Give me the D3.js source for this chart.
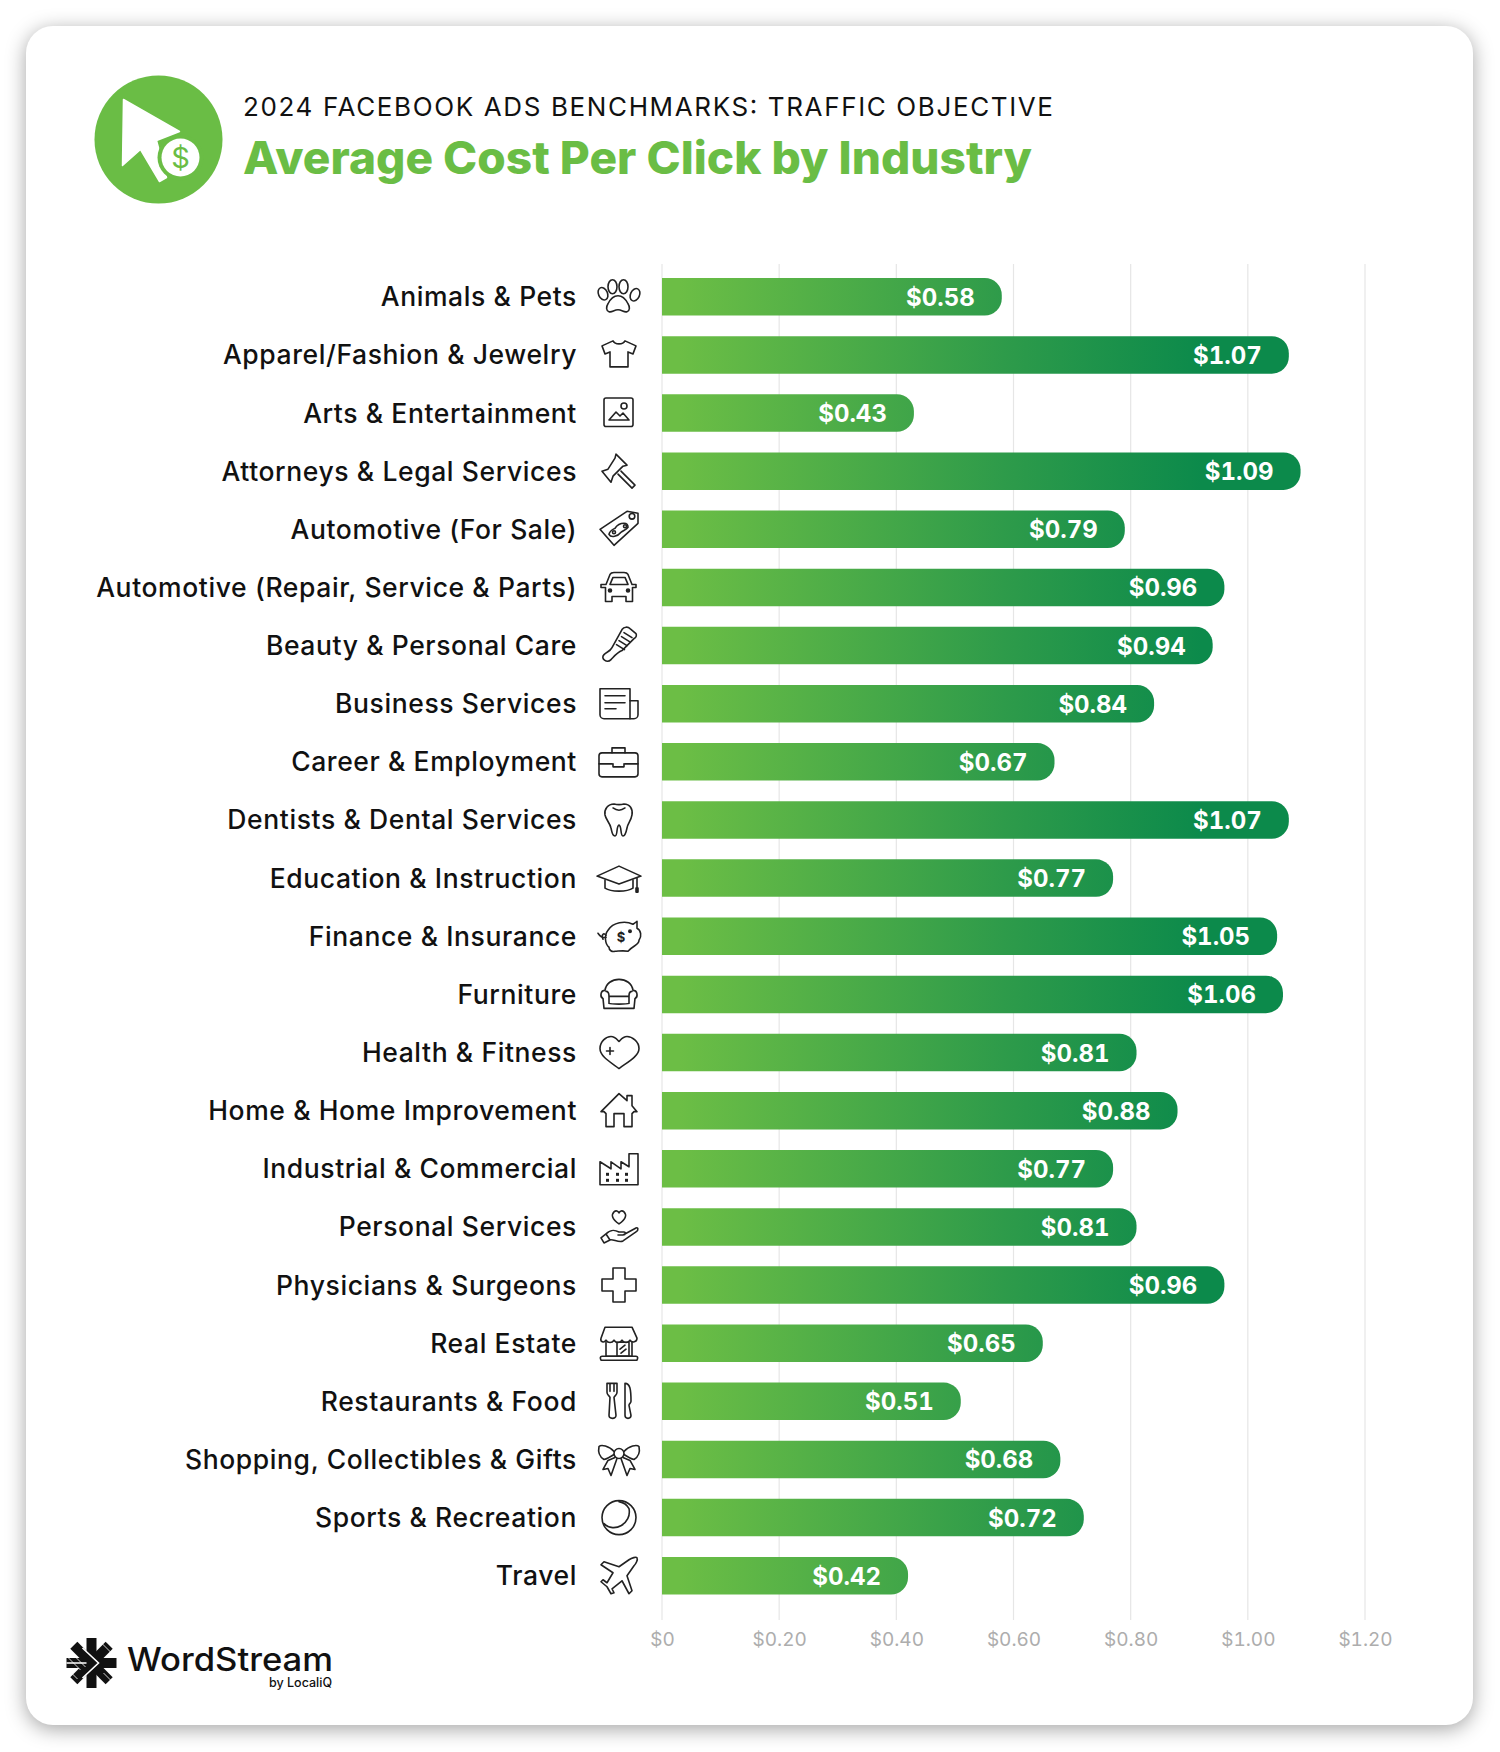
<!DOCTYPE html>
<html>
<head>
<meta charset="utf-8">
<script src="https://cdnjs.cloudflare.com/ajax/libs/d3/7.8.5/d3.min.js"></script>
<style>
  html, body { margin: 0; padding: 0; background: #fff; }
  text { font-family: Inter, "Open Sans", sans-serif; }
</style>
</head>
<body>
<div id="svgcontainer"></div>
<script>
const industries = [
  "Animals & Pets", "Apparel/Fashion & Jewelry", "Arts & Entertainment",
  "Attorneys & Legal Services", "Automotive (For Sale)",
  "Automotive (Repair, Service & Parts)", "Beauty & Personal Care",
  "Business Services", "Career & Employment", "Dentists & Dental Services",
  "Education & Instruction", "Finance & Insurance", "Furniture",
  "Health & Fitness", "Home & Home Improvement", "Industrial & Commercial",
  "Personal Services", "Physicians & Surgeons", "Real Estate",
  "Restaurants & Food", "Shopping, Collectibles & Gifts",
  "Sports & Recreation", "Travel"
]
const cpc = [0.58, 1.07, 0.43, 1.09, 0.79, 0.96, 0.94, 0.84, 0.67, 1.07, 0.77,
  1.05, 1.06, 0.81, 0.88, 0.77, 0.81, 0.96, 0.65, 0.51, 0.68, 0.72, 0.42]
const tickValues = [0, 0.2, 0.4, 0.6, 0.8, 1.0, 1.2]
const tickLabels = ["$0", "$0.20", "$0.40", "$0.60", "$0.80", "$1.00", "$1.20"]

// line icons, one per industry, drawn around 0,0
const icons = [
  `<ellipse cx="-16" cy="-3" rx="4.5" ry="6.5" transform="rotate(-25 -16 -3)"/><ellipse cx="-6.5" cy="-10" rx="4.5" ry="7"/><ellipse cx="4.5" cy="-10" rx="4.5" ry="7"/><ellipse cx="16" cy="-2" rx="4.5" ry="6.5" transform="rotate(25 16 -2)"/><path d="M-10 15c-3-1-3-5-1-8 2-4 5-8 10-8s8 4 10 8c2 3 2 7-1 8-3 1-5-2-9-2s-6 3-9 2z"/>`,
  `<path d="M-6-14C-4-10 4-10 6-14L17-9 14-1 9-3V12H-9V-3L-14-1-17-9Z"/>`,
  `<rect x="-15" y="-15" width="29" height="28.500" rx="2"/><circle cx="5" cy="-7" r="3"/><path d="M-10 7-3-1 1 3 4 0 10 7Z"/>`,
  `<path d="M-17 0-11-2-4-13-3-17 8-6 4-5-6 5-8 11Z"/><path d="M2 0 16 14 13 17 -1 3"/>`,
  `<path d="M-19 0 8-18 19-16V-6L-5 16Z"/><circle cx="13" cy="-13" r="2.800"/><path d="M-10 5C-9 1-6 0-4-1-2-4 1-6 5-6 8-6 9-4 9-2 7 1 4 1 2 3-1 7-8 9-10 5Z"/><circle cx="-5" cy="3" r="1.500"/><circle cx="6" cy="-3" r="1.500"/>`,
  `<path d="M-13-3-9-13C-8-15-7-15-5-15H5C7-15 8-15 9-13L13-3H17V0H13.500V14H7V9H-7V14H-13.500V0H-18V-3Z"/><path d="M-9-3-6-10H6L9-3Z"/><circle cx="-9" cy="3" r="1.500" fill="#222"/><circle cx="9" cy="3" r="1.500" fill="#222"/>`,
  `<path d="M-15 9C-12 6-9 6-7 2L3-16C5-19 9-19 11-17L17-12C18-10 17-8 15-7L3 5C-2 7-5 11-8 14-12 18-19 13-15 9Z"/><path d="M5-13 13-8M2.500-9 10.500-4M0-5 8 0M-2.500-1 5.500 4"/>`,
  `<path d="M11 15H-15A4 4 0 0 1-19 11V-15H11Z"/><path d="M11-3H19V11A4 4 0 0 1 15 15H11M-14-8H6M-14-1H6M-14 5H-3"/>`,
  `<rect x="-20" y="-9" width="39" height="24" rx="3"/><path d="M-7-9V-14H6V-9M-20 2H-7M6 2H19M-6 2V5H5V2"/>`,
  `<path d="M-5-16C-1-15 1-15 5-16 11-16 14-11 13-5 12 1 9 3 8 8 7 13 6 16 4 16 1 16 3 6 0 5-3 6-1 16-4 16-7 16-7 12-8 8-9 3-13 0-14-5-15-11-11-16-5-16Z"/><path d="M-6-12C-2-9 2-9 6-12"/>`,
  `<path d="M-22-2 0-12 22-2 0 6Z"/><path d="M-14 2V10C-8 14 8 14 14 10V2M18 0V10"/><rect x="17" y="10" width="2" height="4" fill="#222"/>`,
  `<path d="M-11-6C-6-14 6-16 14-12 17-14 18-15 18-15L18-8C22-6 23 0 20 4 20 9 14 9 9 15 4 14-1 15-4 15-7 16-10 14-10 11-14 8-15-1-11-6Z"/><path d="M-13 1C-16 2-19 0-21-3M-16 3C-18-2-15-4-13-1"/><text x="2" y="6" text-anchor="middle" font-size="13" font-weight="700" fill="#222" stroke="none">$</text><circle cx="11" cy="-5" r="1.200" fill="#222"/>`,
  `<path d="M-14-4C-13-11-7-15 0-15 7-15 13-11 14-4 19-4 19 3 16 4L15 14H-15L-16 4C-19 3-19-4-14-4Z"/><path d="M-13-3C-10-3-10 0-10 2H10C10 0 10-3 13-3M-10 2V9C-8 10 8 10 10 9V2"/>`,
  `<path d="M0 16C-8 10-19 4-19-4-19-11-13-16-8-16-4-16-2-13 0-11 2-13 4-16 8-16 13-16 20-11 20-4 20 4 8 10 0 16Z"/><path d="M-9-5V2M-12.500-1.500H-5.500"/>`,
  `<path d="M-18 1 0-17 8-10V-15H13V-5L18 1 15 1 13 3V16H5V3H-5V16H-13V3L-15 1Z"/>`,
  `<path d="M-19 16V-7L-8 0V-7L2 0V-7L10-2V-15H19V16Z"/><g fill="#222" stroke="none"><rect x="-13" y="4" width="3" height="3"/><rect x="-3" y="4" width="3" height="3"/><rect x="6" y="4" width="3" height="3"/><rect x="-13" y="10" width="3" height="3"/><rect x="-3" y="10" width="3" height="3"/><rect x="6" y="10" width="3" height="3"/></g>`,
  `<path d="M0-3C-7-8-8-12-5-15-3-17-1-16 0-14 1-16 3-17 5-15 8-12 7-8 0-3Z"/><path d="M-13 7C-8 2-4 3 0 5H5C7 5 7 8 4 8H-1M4 8 17 1C19 0 20 3 17 5L4 14C0 16-6 12-9 13M-13 7-18 11-15 16-9 13Z"/>`,
  `<path d="M-6-17H6V-6H17V6H6V17H-6V6H-17V-6H-6Z"/>`,
  `<path d="M-14-16H13L18-5C18-1 13 0 11-3 9 0 5 0 3-3 1 0-3 0-5-3-7 0-11 0-13-3-15 0-19-1-18-5Z"/><path d="M-13-1V13H13V-1"/><rect x="-2" y="-1" width="12" height="14"/><path d="M1 6 6 2M2 10 7 6"/><path d="M-18 17C-19 15-19 13-17 13H17C19 13 19 15 18 17Z"/>`,
  `<path d="M-12-18V-9C-12-6-10-6-9-4L-10 14C-10 18-3 18-3 14L-5-4C-4-6-2-6-2-9V-18ZM-9-18V-10M-5-18V-10"/><path d="M6-18C11-18 12-12 12 0 12 2 10 2 10 4L12 14C12 18 6 18 6 14Z"/>`,
  `<circle cx="0" cy="-6" r="5"/><path d="M-5-8C-10-14-18-15-20-13-21-8-20-3-15 0-11-1-8-3-5-5M5-8C10-14 18-15 20-13 21-8 20-3 15 0 11-1 8-3 5-5"/><path d="M-4-2-11 1-16 10-11 9-8 16-2-1M4-2 11 1 16 10 11 9 8 16 2-1"/>`,
  `<circle cx="0" cy="0" r="17"/><path d="M-15 6C-5 16 13 6 10-9 8-13 5-15 0-16"/>`,
  `<path d="M-6-3-18-11-15-14 0-9 10-16C13-18 17-19 18-18 19-16 17-12 15-10L8 0 13 15 10 18 3 5-7 13-5 17-8 18-12 11-18 6-16 4-12 7Z"/>`
]

var svg = d3.select("#svgcontainer")
  .append("svg")
  .attr("width", 1500)
  .attr("height", 1752)
  .style("display", "block")

var defs = svg.append("defs")

var x = d3.scaleLinear().domain([0, 1.2]).range([662, 1365])
var y = d3.scaleBand().domain(industries).range([278, 1594.5]).paddingInner(0.355).paddingOuter(0)

var grad = defs.append("linearGradient")
  .attr("id", "barfill")
  .attr("gradientUnits", "userSpaceOnUse")
  .attr("x1", x(0.03)).attr("x2", x(0.92)).attr("y1", 0).attr("y2", 0)
grad.append("stop").attr("offset", 0).attr("stop-color", "#6cbe45")
grad.append("stop").attr("offset", 0.62).attr("stop-color", "#2e9b4a")
grad.append("stop").attr("offset", 1).attr("stop-color", "#0c8a4b")

// card
svg.append("rect")
  .attr("x", 26).attr("y", 26)
  .attr("width", 1447).attr("height", 1699)
  .attr("rx", 27)
  .attr("fill", "#fff")
  .style("filter", "drop-shadow(0 4px 10px rgba(0,0,0,.36))")

// header
var badge = svg.append("g").attr("transform", "translate(158.500,139.500)")
badge.append("circle").attr("r", 64).attr("fill", "#6abd45")
badge.append("path").attr("d", "M-35-40 21-8-2 1 8 38 1 42-18 10-36 26Z").attr("fill", "#fff")
  .attr("stroke", "#fff").attr("stroke-width", 1.5).attr("stroke-linejoin", "round")
badge.append("circle").attr("cx", 22).attr("cy", 18).attr("r", 23).attr("fill", "#6abd45")
badge.append("circle").attr("cx", 22).attr("cy", 18).attr("r", 19).attr("fill", "#fff")
badge.append("text").attr("x", 22).attr("y", 28).attr("text-anchor", "middle")
  .attr("font-size", 29).attr("fill", "#6abd45").text("$")

svg.append("text")
  .attr("x", 243).attr("y", 116)
  .attr("font-size", 26).attr("fill", "#111")
  .attr("textLength", 810).attr("lengthAdjust", "spacing")
  .text("2024 FACEBOOK ADS BENCHMARKS: TRAFFIC OBJECTIVE")
svg.append("text")
  .attr("x", 243).attr("y", 174)
  .attr("font-size", 45).attr("font-weight", 800).attr("fill", "#6abd45")
  .attr("textLength", 789).attr("lengthAdjust", "spacingAndGlyphs")
  .text("Average Cost Per Click by Industry")

// grid and axis
var axis = d3.axisBottom(x)
  .tickValues(tickValues)
  .tickFormat((d, i) => tickLabels[i])
  .tickSize(0)
  .tickPadding(13)
var axisG = svg.append("g").attr("transform", "translate(0,1620)").call(axis)
axisG.select(".domain").remove()
axisG.selectAll("text").attr("font-size", 19).attr("fill", "#adadad")
  .style("font-family", "Inter")
  .style("font-variant-numeric", "tabular-nums")

svg.append("g").selectAll("line")
  .data(tickValues)
  .join("line")
  .attr("x1", d => x(d)).attr("x2", d => x(d))
  .attr("y1", 264).attr("y2", 1620)
  .attr("stroke", "#e6e6e6").attr("stroke-width", 1.2)

// bars, square at the axis and rounded at the value
const radius = 17
svg.append("g").selectAll("path")
  .data(cpc)
  .join("path")
  .attr("d", (d, i) => {
    const t = y(industries[i]), h = y.bandwidth(), e = x(d)
    return `M${x(0)},${t}H${e - radius}A${radius},${radius} 0 0 1 ${e},${t + radius}V${t + h - radius}A${radius},${radius} 0 0 1 ${e - radius},${t + h}H${x(0)}Z`
  })
  .attr("fill", "url(#barfill)")

svg.append("g").selectAll("text")
  .data(cpc)
  .join("text")
  .attr("x", d => x(d) - 27)
  .attr("y", (d, i) => y(industries[i]) + y.bandwidth() / 2 + 9)
  .attr("text-anchor", "end")
  .attr("font-size", 24).attr("font-weight", 700).attr("fill", "#fff")
  .style("font-variant-numeric", "tabular-nums")
  .text(d => "$" + d.toFixed(2))

svg.append("g").selectAll("text")
  .data(industries)
  .join("text")
  .attr("x", 577)
  .attr("y", d => y(d) + y.bandwidth() / 2 + 9.500)
  .attr("text-anchor", "end")
  .attr("font-size", 26.500).attr("font-weight", 500).attr("fill", "#111")
  .attr("letter-spacing", 0.6)
  .text(d => d)

svg.append("g").selectAll("g")
  .data(icons)
  .join("g")
  .attr("transform", (d, i) => `translate(619,${y(industries[i]) + y.bandwidth() / 2})`)
  .attr("fill", "none").attr("stroke", "#222").attr("stroke-width", 1.6)
  .attr("stroke-linejoin", "round").attr("stroke-linecap", "round")
  .html(d => d)

// wordstream logo: thick arms split by white gaps and a chevron
var logo = svg.append("g").attr("transform", "translate(91.500,1663)")
;[0, 45, 90, 135].forEach(a => {
  logo.append("line")
    .attr("x1", 0).attr("y1", -25).attr("x2", 0).attr("y2", 25)
    .attr("stroke", "#111").attr("stroke-width", 10)
    .attr("transform", `rotate(${a})`)
})
logo.append("path").attr("d", "M-9-15 7 0-9 15M-25 0H-5").attr("fill", "none")
  .attr("stroke", "#fff").attr("stroke-width", 1.6)
logo.append("path").attr("d", "M-25-7-11 7M-22-12-6 4M-24 6-14 16M10-20 20-10M12 10 22 20").attr("fill", "none")
  .attr("stroke", "#fff").attr("stroke-width", 0.8)
svg.append("text").attr("x", 127).attr("y", 1671)
  .attr("font-size", 32).attr("font-weight", 500).attr("fill", "#111")
  .attr("textLength", 206).attr("lengthAdjust", "spacingAndGlyphs")
  .text("WordStream")
svg.append("text").attr("x", 332).attr("y", 1687).attr("text-anchor", "end")
  .attr("font-size", 12.500).attr("font-weight", 500).attr("fill", "#111")
  .text("by LocaliQ")
</script>
</body>
</html>
